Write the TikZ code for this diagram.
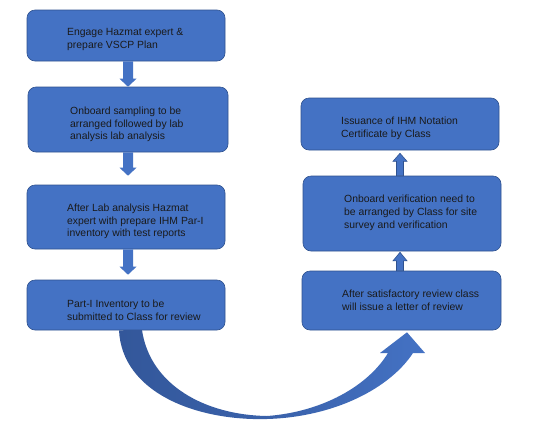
\documentclass[tikz,border=0pt]{standalone}
\usepackage{fontspec}
\setmainfont{Liberation Sans}
\usetikzlibrary{calc}
\definecolor{boxblue}{HTML}{4472C4}
\definecolor{boxedge}{HTML}{2F528F}
\definecolor{darkarc}{HTML}{33579A}
\definecolor{txtcol}{HTML}{1A1A1A}
% vertical block arrow: #1 style, #2 start, #3 tip, #4 half shaft, #5 half head, #6 head length
\newcommand{\vblock}[6]{%
  \path[#1] let \p1=(#2), \p2=(#3), \n1={sign(\y2-\y1)} in
    (\x1-#4pt,\y1) -- (\x1-#4pt,\y2-\n1*#6pt) -- (\x1-#5pt,\y2-\n1*#6pt) -- (\x1,\y2)
    -- (\x1+#5pt,\y2-\n1*#6pt) -- (\x1+#4pt,\y2-\n1*#6pt) -- (\x1+#4pt,\y1) -- cycle;}
\begin{document}
\begin{tikzpicture}[x=1pt,y=-1pt,
  box/.style={draw=boxedge, line width=0.6pt, fill=boxblue, rounded corners=8pt, inner sep=0pt},
  txt/.style={anchor=west, align=left, font=\fontsize{10.4}{12.7}\selectfont, text=txtcol, inner sep=0pt},
  downarrow/.style={fill=boxblue},
  uparrow/.style={fill=boxblue, draw=boxedge, line width=0.6pt}]
\useasboundingbox[fill=white] (0,0) rectangle (538,445);

% left column boxes
\node[box, minimum width=198, minimum height=51] (b1) at (126,35.5) {};
\node[box, minimum width=200, minimum height=65] (b2) at (128,119.5) {};
\node[box, minimum width=198, minimum height=64] (b3) at (126,217) {};
\node[box, minimum width=198, minimum height=50] (b4) at (126,305) {};
% right column boxes
\node[box, minimum width=198, minimum height=52] (b5) at (400,124) {};
\node[box, minimum width=198, minimum height=75] (b6) at (402,213.5) {};
\node[box, minimum width=199, minimum height=59] (b7) at (401.5,300.5) {};

% texts
\node[txt] (t1) at (67,39.5) {Engage Hazmat expert \&\\prepare VSCP Plan};
\node[txt] (t2) at (70,124.5) {Onboard sampling to be\\arranged followed by lab\\analysis lab analysis};
\node[txt] (t3) at (67,221.5) {After Lab analysis Hazmat\\expert with prepare IHM Par-I\\inventory with test reports};
\node[txt] (t4) at (67,310.5) {Part-I Inventory to be\\submitted to Class for review};
\node[txt] (t5) at (341,128) {Issuance of IHM Notation\\Certificate by Class};
\node[txt] (t6) at (344,213) {Onboard verification need to\\be arranged by Class for site\\survey and verification};
\node[txt] (t7) at (342,300) {After satisfactory review class\\will issue a letter of review};

% straight block arrows
\vblock{downarrow}{$(b1.south)+(2,0)$}{$(b2.north)+(0,0)$}{5}{8.5}{8}
\vblock{downarrow}{$(b2.south)+(0,0)$}{$(b3.north)+(2,-9)$}{5}{8.5}{8}
\vblock{downarrow}{$(b3.south)+(2,0)$}{$(b4.north)+(2,-5)$}{5}{8.5}{8}
\vblock{uparrow}{$(b6.north)+(-2,0)$}{$(b5.south)+(0,3)$}{3.5}{7}{8}
\vblock{uparrow}{$(b7.north)+(-1.5,0)$}{$(b6.south)+(-2,1)$}{3.5}{7}{8.5}

% curved arrow from b4 to b7
\coordinate (cs) at ($(b4.south)+(-7,0)$);
\coordinate (ct) at ($(b7.south)+(5.5,2)$);
\shade[left color=darkarc, right color=boxblue, middle color=darkarc!60!boxblue]
  (cs) .. controls (122,392) and (195,421) .. (267,419)
  .. controls (335,417) and (390,388) .. (413,353)
  -- (425,353) -- (ct) -- (380,353) -- (388,353)
  .. controls (368,386) and (322,412) .. (267,416)
  .. controls (205,415) and (150,385) .. (142,330) -- cycle;
\end{tikzpicture}
\end{document}
